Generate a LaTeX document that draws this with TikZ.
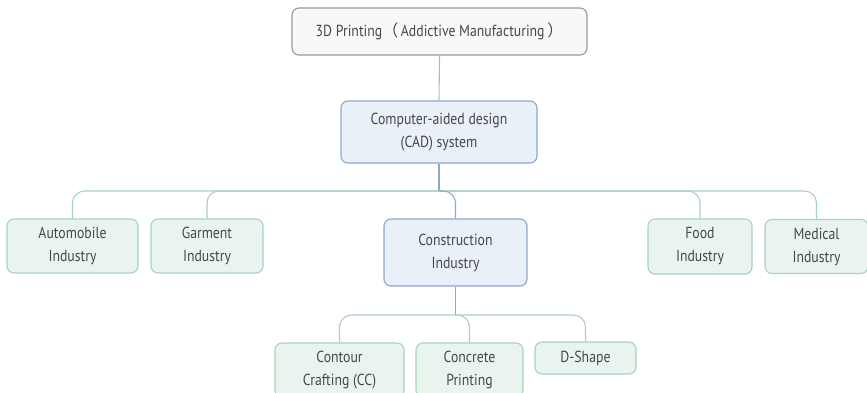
\documentclass[tikz,border=0pt]{standalone}
\usepackage{fontspec}
\setmainfont{PT Sans}[FakeStretch=0.86]
\newfontfamily\cjk{Noto Sans CJK SC}
\begin{document}
\definecolor{txt}{HTML}{474747}
\definecolor{greenfill}{HTML}{EAF4EE}
\definecolor{greenline}{HTML}{A9D2BA}
\definecolor{bluefill}{HTML}{EAF0F8}
\definecolor{blueline}{HTML}{8FA7C8}
\definecolor{grayfill}{HTML}{F8F8F8}
\definecolor{grayline}{HTML}{9A9A9A}
\begin{tikzpicture}[x=1pt,y=-1pt,
  box/.style={rounded corners=7pt, line width=1.1pt, align=center,
    text=txt, font=\fontsize{16}{23}\selectfont, inner sep=0pt},
  greenbox/.style={box, draw=greenline, fill=greenfill},
  bluebox/.style={box, draw=blueline, fill=bluefill},
  graybox/.style={box, draw=grayline, fill=grayfill},
  greenlink/.style={draw=greenline, line width=1.1pt, rounded corners=12pt},
  bluelink/.style={draw=blueline, line width=1.1pt, rounded corners=12pt}]
\useasboundingbox (0,0) rectangle (867,392);

% root and design system
\node[graybox, minimum width=295pt, minimum height=47pt] (root) at (439.5,31.5)
  {3D Printing{\cjk （}\,Addictive Manufacturing\,{\cjk ）}};
\node[bluebox, minimum width=196pt, minimum height=62pt] (cad) at (439,132)
  {Computer-aided design\\(CAD) system};

% industries
\node[greenbox, minimum width=131pt, minimum height=54pt] (auto) at (72.5,246)
  {Automobile\\Industry};
\node[greenbox, minimum width=112pt, minimum height=54pt] (garment) at (207,246)
  {Garment\\Industry};
\node[bluebox, minimum width=143pt, minimum height=67pt] (constr) at (455.5,252.5)
  {Construction\\Industry};
\node[greenbox, minimum width=104pt, minimum height=55pt] (food) at (700,246.5)
  {Food\\Industry};
\node[greenbox, minimum width=103pt, minimum height=54pt] (medical) at (816.5,246.5)
  {Medical\\Industry};

% construction methods
\node[greenbox, minimum width=129pt, minimum height=54pt] (contour) at (339.5,370)
  {Contour\\Crafting (CC)};
\node[greenbox, minimum width=107pt, minimum height=54pt] (concrete) at (469.5,370)
  {Concrete\\Printing};
\node[greenbox, minimum width=101pt, minimum height=32pt] (dshape) at (585.5,358)
  {D-Shape};

% junction points
\coordinate (bus) at (cad.south |- 0,191);
\coordinate (subbus) at (constr.south |- 0,315);

% connectors
\draw[draw=grayline!70, line width=1.1pt] (root.south) -- (cad.north);
\draw[bluelink] (cad.south) -- (bus);
\draw[greenlink] (bus) -| (auto.north);
\draw[greenlink] (bus) -| (garment.north);
\draw[greenlink] (bus) -| (food.north);
\draw[greenlink] (bus) -| (medical.north);
\draw[bluelink] (bus) -| (constr.north);

\draw[bluelink] (constr.south) -- (subbus);
\draw[greenlink] (subbus) -| (contour.north);
\draw[greenlink] (subbus) -| (concrete.north);
\draw[greenlink] (subbus) -| (dshape.north);
\end{tikzpicture}
\end{document}
